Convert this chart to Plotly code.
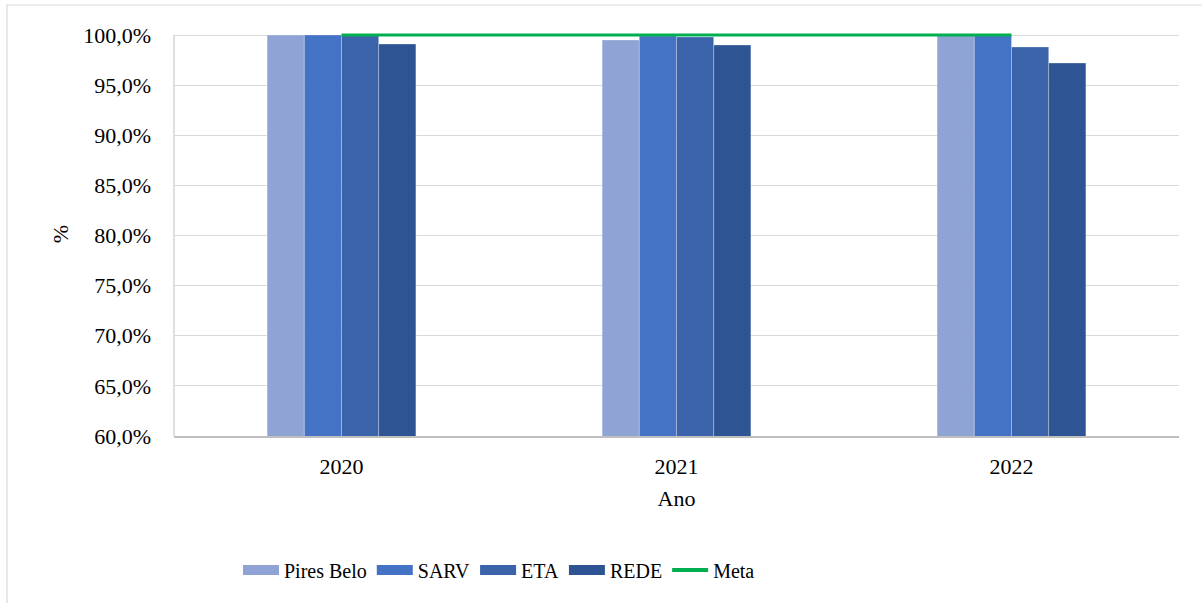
import plotly.graph_objects as go

anos = ["2020", "2021", "2022"]
pires_belo = [100.0, 99.5, 100.0]
sarv = [100.0, 99.9, 100.0]
eta = [100.0, 99.8, 98.8]
rede = [99.1, 99.0, 97.2]
meta = [100.0, 100.0, 100.0]

series = [
    ("Pires Belo", pires_belo, "#8FA3D5"),
    ("SARV", sarv, "#4472C4"),
    ("ETA", eta, "#3B63AA"),
    ("REDE", rede, "#2F5493"),
]

FONT = "Liberation Serif, Times New Roman, serif"

fig = go.Figure()
for name, vals, color in series:
    fig.add_trace(go.Bar(
        x=anos, y=[v / 100 for v in vals], name=name,
        marker=dict(color=color, line=dict(color="rgba(255,255,255,0.35)", width=0.8)),
        showlegend=False,
    ))
fig.add_trace(go.Scatter(
    x=anos, y=[v / 100 for v in meta], name="Meta", mode="lines",
    line=dict(color="#00B050", width=3), cliponaxis=False, showlegend=False,
))
# legend proxies (wide rectangular swatches like the original)
for name, vals, color in series:
    fig.add_trace(go.Scatter(
        x=[None], y=[None], name=name, mode="lines",
        line=dict(color=color, width=11),
    ))
fig.add_trace(go.Scatter(
    x=[None], y=[None], name="Meta", mode="lines",
    line=dict(color="#00B050", width=4),
))

# plot area in pixels; a little headroom above 100% so the Meta line is not clipped
L, R, T, B = 174, 1179, 32, 436
W, H = 1202, 603
pw, ph = R - L, B - T
pad_top = 0.4 * 3 / 401  # 3 px worth of axis units

fig.update_layout(
    width=W, height=H,
    margin=dict(l=L, r=W - R, t=T, b=H - B, pad=0),
    paper_bgcolor="white", plot_bgcolor="white",
    barmode="group", bargap=0.556, bargroupgap=0,
    separators=", ",
    font=dict(family=FONT, size=22, color="black"),
    legend=dict(
        orientation="h", x=(499 - L) / pw, xanchor="center",
        y=(B - 570) / ph, yanchor="middle",
        font=dict(family=FONT, size=20), itemwidth=36,
        tracegroupgap=0,
    ),
    xaxis=dict(
        type="category", showgrid=False, showline=True,
        linecolor="#BFBFBF", linewidth=1.5, ticks="",
        tickfont=dict(size=22), ticklabelstandoff=10,
        title=dict(text="Ano", font=dict(size=22), standoff=12),
    ),
    yaxis=dict(
        range=[0.6, 1.0 + pad_top], tickvals=[0.6, 0.65, 0.7, 0.75, 0.8, 0.85, 0.9, 0.95, 1.0],
        tickformat=".1%",
        showgrid=True, gridcolor="#D9D9D9", gridwidth=1,
        showline=False,
        zeroline=False, ticks="", tickfont=dict(size=22),
        ticklabelstandoff=22,
        title=dict(text="%", font=dict(size=22), standoff=8),
    ),
    shapes=[
        dict(
            type="rect", xref="paper", yref="paper",
            x0=(7 - L) / pw, x1=(1215 - L) / pw,
            y0=(B - 615) / ph, y1=(B - 5) / ph,
            line=dict(color="#D9D9D9", width=1.2), layer="below",
        ),
        # left axis line from 60% to 100%
        dict(
            type="line", xref="paper", yref="y", x0=0, x1=0, y0=0.6, y1=1.0,
            line=dict(color="#BFBFBF", width=1), layer="below",
        ),
    ],
)

fig.write_html("out.html")
